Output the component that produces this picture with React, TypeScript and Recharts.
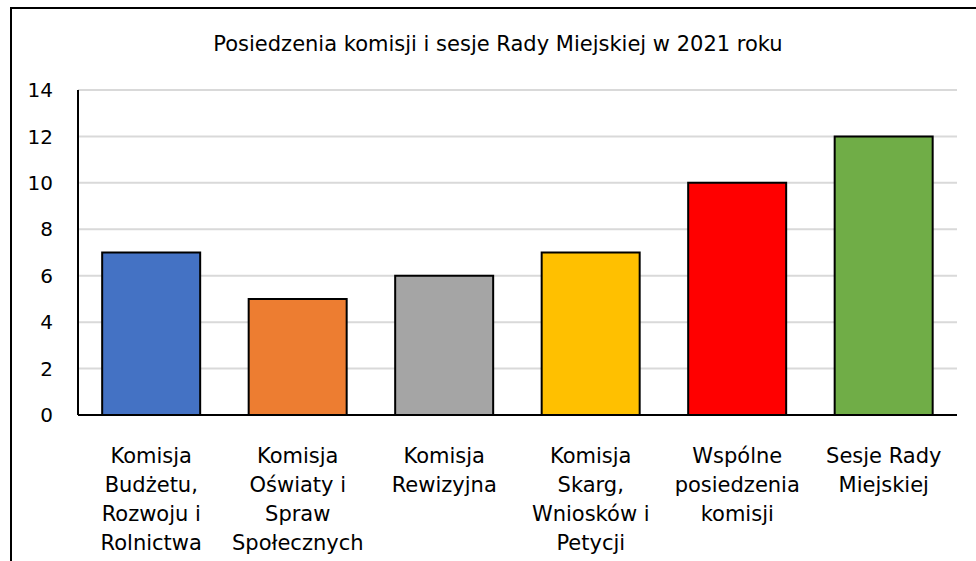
import React from 'react';
import { BarChart, Bar, XAxis, YAxis, CartesianGrid, Cell } from 'recharts';

const categories = [
  'Komisja Budżetu, Rozwoju i Rolnictwa',
  'Komisja Oświaty i Spraw Społecznych',
  'Komisja Rewizyjna',
  'Komisja Skarg, Wniosków i Petycji',
  'Wspólne posiedzenia komisji',
  'Sesje Rady Miejskiej',
];
const labelLines = [
  ['Komisja', 'Budżetu,', 'Rozwoju i', 'Rolnictwa'],
  ['Komisja', 'Oświaty i', 'Spraw', 'Społecznych'],
  ['Komisja', 'Rewizyjna'],
  ['Komisja', 'Skarg,', 'Wniosków i', 'Petycji'],
  ['Wspólne', 'posiedzenia', 'komisji'],
  ['Sesje Rady', 'Miejskiej'],
];
const values = [7, 5, 6, 7, 10, 12];
const colors = ['#4472C4', '#ED7D31', '#A5A5A5', '#FFC000', '#FF0000', '#70AD47'];
const yTicks = [0, 2, 4, 6, 8, 10, 12, 14];
const title = 'Posiedzenia komisji i sesje Rady Miejskiej w 2021 roku';

const data = categories.map((c, i) => ({ name: c, value: values[i] }));

const FONT = '"DejaVu Sans", Tahoma, sans-serif';

const CategoryTick = (props: any) => {
  const { x, y, payload } = props;
  const idx = categories.indexOf(payload.value);
  const lines = idx >= 0 ? labelLines[idx] : [String(payload.value)];
  return (
    <text x={x} y={y} textAnchor="middle" fill="#000" fontFamily={FONT} fontSize={21}>
      {lines.map((l, i) => (
        <tspan key={i} x={x} dy={i === 0 ? 40 : 29}>
          {l}
        </tspan>
      ))}
    </text>
  );
};

export default function App() {
  return (
    <div style={{ position: 'absolute', left: 0, top: 0, width: 976, height: 561, overflow: 'hidden', background: '#fff' }}>
      <div
        style={{
          position: 'absolute',
          left: 10,
          top: 7,
          width: 1000,
          height: 600,
          border: '2px solid #000',
          boxSizing: 'border-box',
        }}
      />
      <div
        style={{
          position: 'absolute',
          left: 0,
          width: 996,
          top: 30,
          textAlign: 'center',
          fontFamily: FONT,
          fontSize: 21,
          color: '#000',
          lineHeight: '28px',
        }}
      >
        {title}
      </div>
      <div style={{ position: 'absolute', left: 0, top: 0 }}>
        <BarChart
          width={976}
          height={561}
          data={data}
          margin={{ top: 90, right: 19, bottom: 0, left: 0 }}
          barCategoryGap="16.5%"
        >
          <CartesianGrid vertical={false} stroke="#d9d9d9" strokeWidth={2} />
          <YAxis
            width={78}
            domain={[0, 14]}
            ticks={yTicks}
            interval={0}
            tickLine={false}
            tickSize={0}
            tickMargin={25}
            axisLine={{ stroke: '#000', strokeWidth: 2 }}
            tick={{ fill: '#000', fontSize: 20, fontFamily: FONT }}
          />
          <XAxis
            dataKey="name"
            height={146}
            interval={0}
            tickLine={false}
            axisLine={{ stroke: '#000', strokeWidth: 2 }}
            tick={<CategoryTick />}
          />
          <Bar dataKey="value" stroke="#000" strokeWidth={2} isAnimationActive={false}>
            {data.map((d, i) => (
              <Cell key={i} fill={colors[i]} />
            ))}
          </Bar>
        </BarChart>
      </div>
    </div>
  );
}
